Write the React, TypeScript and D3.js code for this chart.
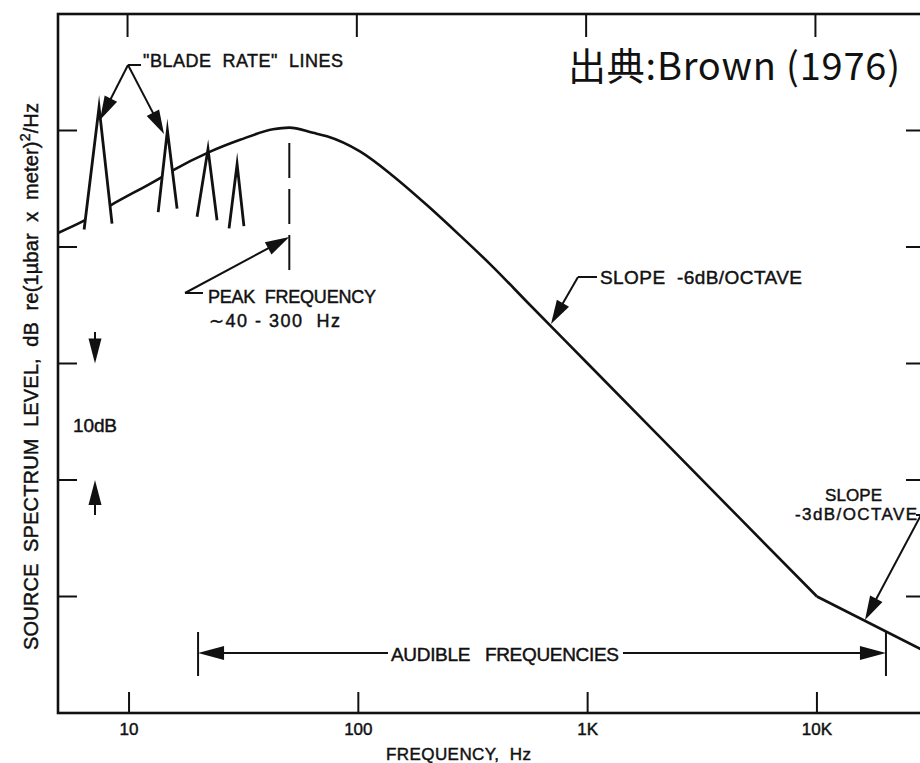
import React from 'react';
import * as d3 from 'd3';

const W = 920;
const H = 763;

// ---- data (frequency in Hz, level in relative dB; 10 dB per y tick) ----
const xTickValues = [10, 100, 1000, 10000];
const xTickLabels = ['10', '100', '1K', '10K'];
const yTickValues = [10, 20, 30, 40, 50];

// smooth broadband spectrum up to the 10 kHz break
const spectrumMain: [number, number][] = [
  [4.9, 41.2], [6.43, 42.3], [8.35, 43.6], [13.6, 45.9], [15.6, 46.6],
  [22.1, 48.1], [30.5, 49.2], [42.4, 50.1], [50, 50.25], [63.4, 49.8],
  [73, 49.5], [101.6, 48.2], [141.6, 46.1], [199, 43.6], [277, 41.0],
  [386, 38.3], [543, 35.3], [1000, 30.0], [4616, 16.7], [10000, 10.0],
];
// -3 dB/octave segment above 10 kHz
const spectrumHigh: [number, number][] = [[10000, 10.0], [29600, 5.3]];

// blade-rate lines: left foot, apex, right foot
const bladeLeft: [number, number][] = [[6.37, 41.5], [13.4, 43.0], [19.8, 42.6], [27.3, 41.6]];
const bladeTop: [number, number][] = [[7.4, 52.0], [14.7, 50.0], [22.1, 48.4], [29.6, 47.1]];
const bladeRight: [number, number][] = [[8.43, 42.0], [16.2, 43.3], [24.2, 42.3], [31.7, 41.8]];

const audibleRange = [20, 20000];
const peakFreq = 50;

function head(x1: number, y1: number, x2: number, y2: number, L = 24, hw = 7) {
  const dx = x2 - x1, dy = y2 - y1;
  const len = Math.hypot(dx, dy);
  const ux = dx / len, uy = dy / len;
  const bx = x2 - ux * L, by = y2 - uy * L;
  return `${x2},${y2} ${bx - uy * hw},${by + ux * hw} ${bx + uy * hw},${by - ux * hw}`;
}

function Arrow({ x1, y1, x2, y2, L = 24, hw = 7 }: { x1: number; y1: number; x2: number; y2: number; L?: number; hw?: number }) {
  const dx = x2 - x1, dy = y2 - y1;
  const len = Math.hypot(dx, dy);
  const ex = x2 - (dx / len) * L * 0.5, ey = y2 - (dy / len) * L * 0.5;
  return (
    <g>
      <line x1={x1} y1={y1} x2={ex} y2={ey} stroke="#111" strokeWidth={2} />
      <polygon points={head(x1, y1, x2, y2, L, hw)} fill="#111" />
    </g>
  );
}

export default function App() {
  const x = d3.scaleLog().domain([4.9, 29600]).range([58, 925]);
  const y = d3.scaleLinear().domain([0, 60]).range([713, 14]);
  const smooth = d3.line<[number, number]>().x(d => x(d[0])).y(d => y(d[1])).curve(d3.curveMonotoneX);
  const straight = d3.line<[number, number]>().x(d => x(d[0])).y(d => y(d[1]));

  const ink = '#111';
  const font = "'Liberation Sans', Arial, sans-serif";
  const tx = { fill: ink, stroke: ink, strokeWidth: 0.45, style: { whiteSpace: 'pre' as const } };

  const xl = x(audibleRange[0]);
  const xr = x(audibleRange[1]);
  const xp = x(peakFreq);

  return (
    <div style={{ position: 'absolute', left: 0, top: 0 }}>
      <svg width={W} height={H} style={{ display: 'block', background: '#fff' }} fontFamily={font}>
        {/* frame */}
        <rect x={58} y={14} width={925 - 58} height={713 - 14} fill="none" stroke={ink} strokeWidth={2.6} />
        {/* x ticks bottom and top */}
        {xTickValues.map((v, i) => (
          <g key={'xt' + i}>
            <line x1={x(v)} x2={x(v)} y1={713} y2={692} stroke={ink} strokeWidth={2} />
            <line x1={x(v) - 1.5} x2={x(v) - 1.5} y1={14} y2={37} stroke={ink} strokeWidth={2} />
            <text x={x(v)} y={735} textAnchor="middle" fontSize={17} {...tx}>{xTickLabels[i]}</text>
          </g>
        ))}
        {/* y ticks left and right */}
        {yTickValues.map((v, i) => (
          <g key={'yt' + i}>
            <line x1={58} x2={77} y1={y(v)} y2={y(v)} stroke={ink} strokeWidth={2} />
            <line x1={906} x2={925} y1={y(v)} y2={y(v)} stroke={ink} strokeWidth={2} />
          </g>
        ))}

        {/* spectrum */}
        <path d={smooth(spectrumMain) || ''} fill="none" stroke={ink} strokeWidth={2.6} />
        <path d={straight(spectrumHigh) || ''} fill="none" stroke={ink} strokeWidth={2.6} />

        {/* blade rate lines */}
        {bladeTop.map((t, i) => {
          const pts = [bladeLeft[i], t, bladeRight[i]].map(p => `${x(p[0])},${y(p[1])}`).join(' ');
          return (
            <g key={'bl' + i}>
              <polygon points={pts} fill="#fff" stroke="none" />
              <polyline points={pts} fill="none" stroke={ink} strokeWidth={2.8} strokeLinejoin="miter" strokeMiterlimit={10} />
            </g>
          );
        })}

        {/* peak frequency dashed marker */}
        <line x1={xp} x2={xp} y1={143} y2={270} stroke={ink} strokeWidth={2} strokeDasharray="35 11" />
        <line x1={185} y1={293} x2={203} y2={293} stroke={ink} strokeWidth={2} />
        <Arrow x1={185} y1={293} x2={xp} y2={237} />
        <text x={208} y={303} fontSize={18} {...tx} textLength={168} lengthAdjust="spacing">PEAK  FREQUENCY</text>
        <text x={209} y={327} fontSize={18} {...tx} textLength={131} lengthAdjust="spacing">∼40 - 300  Hz</text>

        {/* blade rate label */}
        <line x1={128} y1={65} x2={141} y2={65} stroke={ink} strokeWidth={2} />
        <Arrow x1={128} y1={65} x2={100} y2={120} />
        <Arrow x1={128} y1={65} x2={164} y2={134} />
        <text x={143} y={67} fontSize={18} {...tx} textLength={200} lengthAdjust="spacing">"BLADE  RATE"  LINES</text>

        {/* slope -6 */}
        <line x1={578} y1={277} x2={597} y2={277} stroke={ink} strokeWidth={2} />
        <Arrow x1={578} y1={277} x2={551} y2={324} />
        <text x={600} y={284} fontSize={19} {...tx} textLength={202} lengthAdjust="spacing">SLOPE  -6dB/OCTAVE</text>

        {/* slope -3 */}
        <text x={825} y={501} fontSize={17} {...tx} textLength={57} lengthAdjust="spacing">SLOPE</text>
        <text x={795} y={520} fontSize={17} {...tx} textLength={122} lengthAdjust="spacing">-3dB/OCTAVE</text>
        <line x1={916} y1={515} x2={922} y2={515} stroke={ink} strokeWidth={2} />
        <Arrow x1={922} y1={513} x2={865} y2={620} />

        {/* 10 dB scale marker */}
        <Arrow x1={95} y1={332} x2={95} y2={y(30)} L={25} hw={6.5} />
        <Arrow x1={95} y1={515} x2={95} y2={y(20)} L={25} hw={6.5} />
        <text x={73} y={432} fontSize={19} {...tx} textLength={44} lengthAdjust="spacing">10dB</text>

        {/* audible frequencies */}
        <line x1={xl} x2={xl} y1={632} y2={676} stroke={ink} strokeWidth={2} />
        <line x1={xr} x2={xr} y1={632} y2={676} stroke={ink} strokeWidth={2} />
        <Arrow x1={388} y1={653} x2={xl} y2={653} L={26} hw={7} />
        <Arrow x1={623} y1={653} x2={xr} y2={653} L={26} hw={7} />
        <text x={391} y={661} fontSize={19} {...tx} textLength={228} lengthAdjust="spacing">AUDIBLE   FREQUENCIES</text>

        {/* axis titles */}
        <text x={386} y={760} fontSize={17} {...tx} textLength={145} lengthAdjust="spacing">FREQUENCY,  Hz</text>
        <text transform="translate(38,650) rotate(-90)" fontSize={20} {...tx} textLength={547} lengthAdjust="spacing">
          SOURCE  SPECTRUM  LEVEL,  dB  re(1µbar  x  meter)
          <tspan dy={-8} fontSize={14}>2</tspan>
          <tspan dy={8}>/Hz</tspan>
        </text>

        {/* source note */}
        <text x={568} y={80} fontSize={38} fill={ink} fontFamily="'Noto Sans CJK JP', 'Noto Sans', sans-serif" textLength={332} lengthAdjust="spacing">出典:Brown (1976)</text>
      </svg>
    </div>
  );
}
